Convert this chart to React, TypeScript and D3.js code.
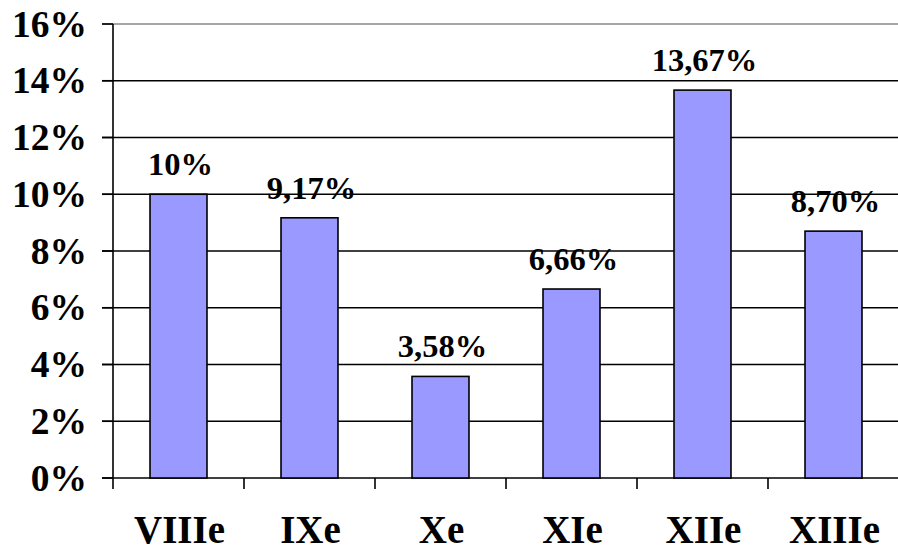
import React from "react";
import * as d3 from "d3";

const categories = ["VIIIe", "IXe", "Xe", "XIe", "XIIe", "XIIIe"];
const values = [10, 9.17, 3.58, 6.66, 13.67, 8.7];
const valueLabels = ["10%", "9,17%", "3,58%", "6,66%", "13,67%", "8,70%"];
const yTicks = [0, 2, 4, 6, 8, 10, 12, 14, 16];

const W = 898;
const H = 550;
const left = 113;
const right = 899;
const top = 24;
const bottom = 478;
const font = "Liberation Serif";

export default function App() {
  const x = d3.scaleBand<string>().domain(categories).range([left, right]).paddingInner(0.565).paddingOuter(0.2825);
  const xb = d3.scaleBand<string>().domain(categories).range([left, right]);
  const y = d3.scaleLinear().domain([0, 16]).range([bottom, top]);
  const ts = { fontFamily: font, fontWeight: 700 };

  return (
    <svg width={W} height={H} style={{ position: "fixed", left: 0, top: 0, background: "#fff" }}>
      <rect x={0} y={0} width={W} height={H} fill="#fff" />
      {yTicks.map((t) => (
        <g key={t}>
          <line x1={left - 11} x2={right} y1={y(t)} y2={y(t)} stroke={t === 16 ? "#888" : "#000"} strokeWidth={1.6} />
          <line x1={left - 11} x2={left} y1={y(t)} y2={y(t)} stroke="#000" strokeWidth={1.6} />
          <text x={87} y={y(t) + 12.5} textAnchor="end" style={ts} fontSize={37.5} fill="#000">
            {t}%
          </text>
        </g>
      ))}
      <line x1={left} x2={left} y1={top} y2={bottom + 11} stroke="#000" strokeWidth={1.6} />
      {categories.map((c) => (
        <line key={"tk" + c} x1={xb(c)! + xb.bandwidth()} x2={xb(c)! + xb.bandwidth()} y1={bottom} y2={bottom + 11} stroke="#000" strokeWidth={1.6} />
      ))}
      {categories.map((c, i) => (
        <rect
          key={"b" + c}
          x={x(c)}
          y={y(values[i])}
          width={x.bandwidth()}
          height={bottom - y(values[i])}
          fill="#9999FF"
          stroke="#000"
          strokeWidth={1.6}
        />
      ))}
      {categories.map((c, i) => (
        <text
          key={"v" + c}
          x={x(c)! + x.bandwidth() / 2 + 2}
          y={y(values[i]) - 19}
          textAnchor="middle"
          style={ts}
          fontSize={32.5}
          fill="#000"
        >
          {valueLabels[i]}
        </text>
      ))}
      {categories.map((c) => (
        <text
          key={"l" + c}
          x={xb(c)! + xb.bandwidth() / 2 + 1}
          y={543}
          textAnchor="middle"
          style={ts}
          fontSize={39}
          fill="#000"
        >
          {c}
        </text>
      ))}
    </svg>
  );
}
